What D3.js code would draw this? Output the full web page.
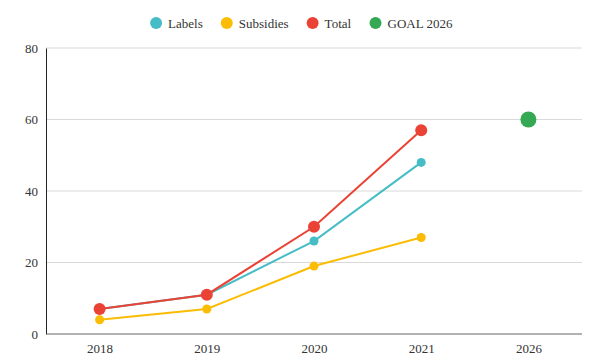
<!DOCTYPE html>
<html>
<head>
<meta charset="utf-8">
<script src="https://cdn.jsdelivr.net/npm/d3@7"></script>
<style>
  body { margin: 0; background: #fff; }
  text { font-family: "Liberation Serif", "DejaVu Serif", serif; fill: #333; }
</style>
</head>
<body>
<div id="chart"></div>
<script>
// categories on the x axis
var years = ["2018", "2019", "2020", "2021", "2026"];

// series values
var labels = [7, 11, 26, 48];
var subsidies = [4, 7, 19, 27];
var total = [7, 11, 30, 57];
var goal2026 = [60];

var yTicks = [0, 20, 40, 60, 80];

var series = [
  {name: "Labels", color: "#46bdc6", values: labels, start: 0, r: 4.5, line: true},
  {name: "Subsidies", color: "#fbbc04", values: subsidies, start: 0, r: 4.5, line: true},
  {name: "Total", color: "#ea4335", values: total, start: 0, r: 6, line: true},
  {name: "GOAL 2026", color: "#34a853", values: goal2026, start: 4, r: 8, line: false}
];

var width = 599, height = 361;
var margin = {top: 48, right: 17, bottom: 27, left: 46};

var svg = d3.select("#chart").append("svg")
  .attr("width", width)
  .attr("height", height);

var x = d3.scalePoint()
  .domain(years)
  .range([margin.left, width - margin.right])
  .padding(0.5);

var y = d3.scaleLinear()
  .domain([0, 80])
  .range([height - margin.bottom, margin.top]);

// gridlines
svg.append("g")
  .selectAll("line")
  .data(yTicks.slice(1))
  .enter().append("line")
    .attr("x1", margin.left)
    .attr("x2", width - margin.right)
    .attr("y1", function(d) { return y(d); })
    .attr("y2", function(d) { return y(d); })
    .attr("stroke", "#d9d9d9")
    .attr("stroke-width", 1);

// y axis
var yAxis = svg.append("g")
  .attr("transform", "translate(" + margin.left + ",0)")
  .call(d3.axisLeft(y).tickValues(yTicks).tickSize(0).tickPadding(8));
yAxis.select(".domain").attr("stroke", "#222");
yAxis.selectAll("text").style("font-size", "13px").attr("fill", "#333");

// x axis
var xAxis = svg.append("g")
  .attr("transform", "translate(0," + y(0) + ")")
  .call(d3.axisBottom(x).tickSize(0).tickPadding(10));
xAxis.select(".domain")
  .attr("d", "M" + margin.left + ",0H" + (width - margin.right))
  .attr("stroke", "#666");
xAxis.selectAll("text").style("font-size", "13px").attr("fill", "#333");

var line = d3.line()
  .x(function(d) { return x(d.year); })
  .y(function(d) { return y(d.value); });

series.forEach(function(s) {
  var pts = s.values.map(function(v, i) { return {year: years[s.start + i], value: v}; });
  var g = svg.append("g").attr("class", "series");
  if (s.line) {
    g.append("path")
      .datum(pts)
      .attr("d", line)
      .attr("fill", "none")
      .attr("stroke", s.color)
      .attr("stroke-width", 2);
  }
  g.selectAll("circle")
    .data(pts)
    .enter().append("circle")
      .attr("cx", function(d) { return x(d.year); })
      .attr("cy", function(d) { return y(d.value); })
      .attr("r", s.r)
      .attr("fill", s.color);
});

// legend
var legend = svg.append("g").attr("class", "legend");
var items = legend.selectAll("g")
  .data(series)
  .enter().append("g");
items.append("circle")
  .attr("r", 6)
  .attr("cy", 0)
  .attr("fill", function(d) { return d.color; });
items.append("text")
  .attr("x", 12)
  .attr("dy", "0.35em")
  .style("font-size", "13px")
  .text(function(d) { return d.name; });

var pos = 0;
items.each(function() {
  var w = this.getBBox().width;
  d3.select(this).attr("transform", "translate(" + (pos + 6) + ",23)");
  pos += w + 18;
});
var total_w = pos - 18;
legend.attr("transform", "translate(" + ((width - total_w) / 2 + 2) + ",0)");
</script>
</body>
</html>
